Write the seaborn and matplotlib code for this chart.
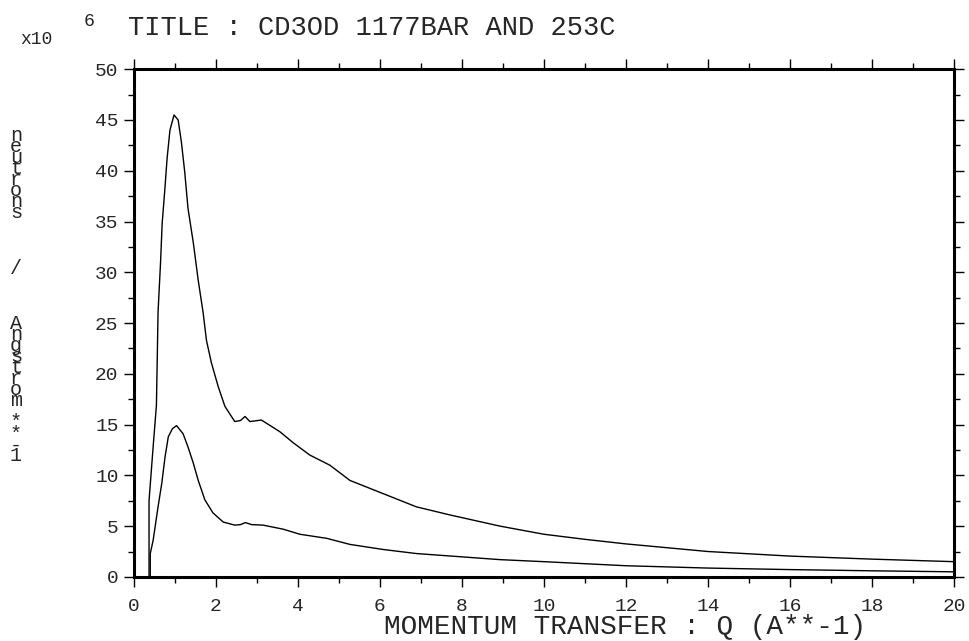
import pandas as pd
import matplotlib
matplotlib.use("Agg")
import matplotlib.pyplot as plt
import seaborn as sns
from matplotlib.ticker import MultipleLocator

# momentum transfer Q (A**-1) and intensity (x10^6)
q_upper = [0, 0.37, 0.37, 0.47, 0.55, 0.57, 0.59, 0.65, 0.69, 0.76, 0.81, 0.88,
           0.98, 1.08, 1.16, 1.24, 1.32, 1.45, 1.57, 1.69, 1.77, 1.89, 2.06,
           2.22, 2.46, 2.60, 2.71, 2.83, 3.11, 3.56, 3.89, 4.29, 4.78, 5.27,
           6.08, 6.89, 7.71, 8.93, 10, 11, 12, 14, 16, 18, 20]
i_upper = [0, 0, 7.5, 12.8, 16.9, 21.4, 26.1, 30.9, 34.8, 38.4, 41.2, 44.0,
           45.5, 45.0, 42.8, 39.9, 36.3, 32.9, 29.2, 26.0, 23.3, 21.1, 18.7,
           16.8, 15.3, 15.4, 15.8, 15.3, 15.45, 14.3, 13.2, 12.0, 11.0, 9.5,
           8.2, 6.9, 6.1, 5.0, 4.2, 3.7, 3.25, 2.5, 2.05, 1.75, 1.5]

q_lower = [0, 0.40, 0.40, 0.47, 0.59, 0.68, 0.76, 0.84, 0.94, 1.04, 1.20, 1.32,
           1.45, 1.57, 1.73, 1.93, 2.18, 2.46, 2.60, 2.72, 2.87, 3.15, 3.64,
           4.05, 4.70, 5.27, 6.08, 6.89, 8.93, 10, 12, 14, 16, 18, 20]
i_lower = [0, 0, 2.3, 3.6, 6.9, 9.2, 11.8, 13.8, 14.6, 14.9, 14.1, 12.8,
           11.2, 9.5, 7.6, 6.3, 5.4, 5.1, 5.15, 5.35, 5.15, 5.1, 4.7,
           4.2, 3.8, 3.2, 2.7, 2.3, 1.7, 1.5, 1.1, 0.87, 0.72, 0.6, 0.5]

x_ticks = [0, 2, 4, 6, 8, 10, 12, 14, 16, 18, 20]
y_ticks = [0, 5, 10, 15, 20, 25, 30, 35, 40, 45, 50]

df_up = pd.DataFrame({"q": q_upper, "i": i_upper})
df_lo = pd.DataFrame({"q": q_lower, "i": i_lower})

sns.set_style("white")
plt.rcParams["font.family"] = ["Liberation Mono", "DejaVu Sans Mono"]

fig = plt.figure(figsize=(9.7, 6.41), dpi=100)
ax = fig.add_axes([0.138, 0.1, 0.8455, 0.792])

for df in (df_up, df_lo):
    sns.lineplot(data=df, x="q", y="i", color="black", linewidth=1.0,
                 sort=False, estimator=None, ax=ax)

ax.set_xlim(0, 20)
ax.set_ylim(0, 50)
ax.set_xticks(x_ticks)
ax.set_yticks(y_ticks)
ax.xaxis.set_minor_locator(MultipleLocator(1))
ax.yaxis.set_minor_locator(MultipleLocator(2.5))
ax.tick_params(which="both", direction="out", top=True, right=True,
               bottom=True, left=True, color="black", width=1.0)
ax.tick_params(which="major", length=7, labelsize=14)
ax.tick_params(axis="x", which="major", pad=8)
ax.tick_params(axis="y", which="major", pad=4)
ax.tick_params(which="minor", length=4)
for s in ax.spines.values():
    s.set_visible(True)
    s.set_color("black")
    s.set_linewidth(2.2)
ax.set_xlabel("")
ax.set_ylabel("")

# header text
fig.text(20 / 970, 1 - 39 / 641, "x10", fontsize=13, va="center", ha="left")
fig.text(84 / 970, 1 - 21 / 641, "6", fontsize=13, va="center", ha="left")
fig.text(128 / 970, 1 - 28 / 641, "TITLE : CD3OD 1177BAR AND 253C",
         fontsize=19.5, va="center", ha="left")

# axis label
fig.text(625 / 970, 1 - 627 / 641, "MOMENTUM TRANSFER : Q (A**-1)",
         fontsize=20, va="center", ha="center")

# stacked y label, one character under the other, as one text
y_label = "neutrons    /    Angstrom **-1"
fig.text(16 / 970, 1 - 126 / 641, "\n".join(y_label), fontsize=14.5,
         linespacing=0.47, va="top", ha="center")

fig.savefig("out.png", dpi=100, facecolor="white")
